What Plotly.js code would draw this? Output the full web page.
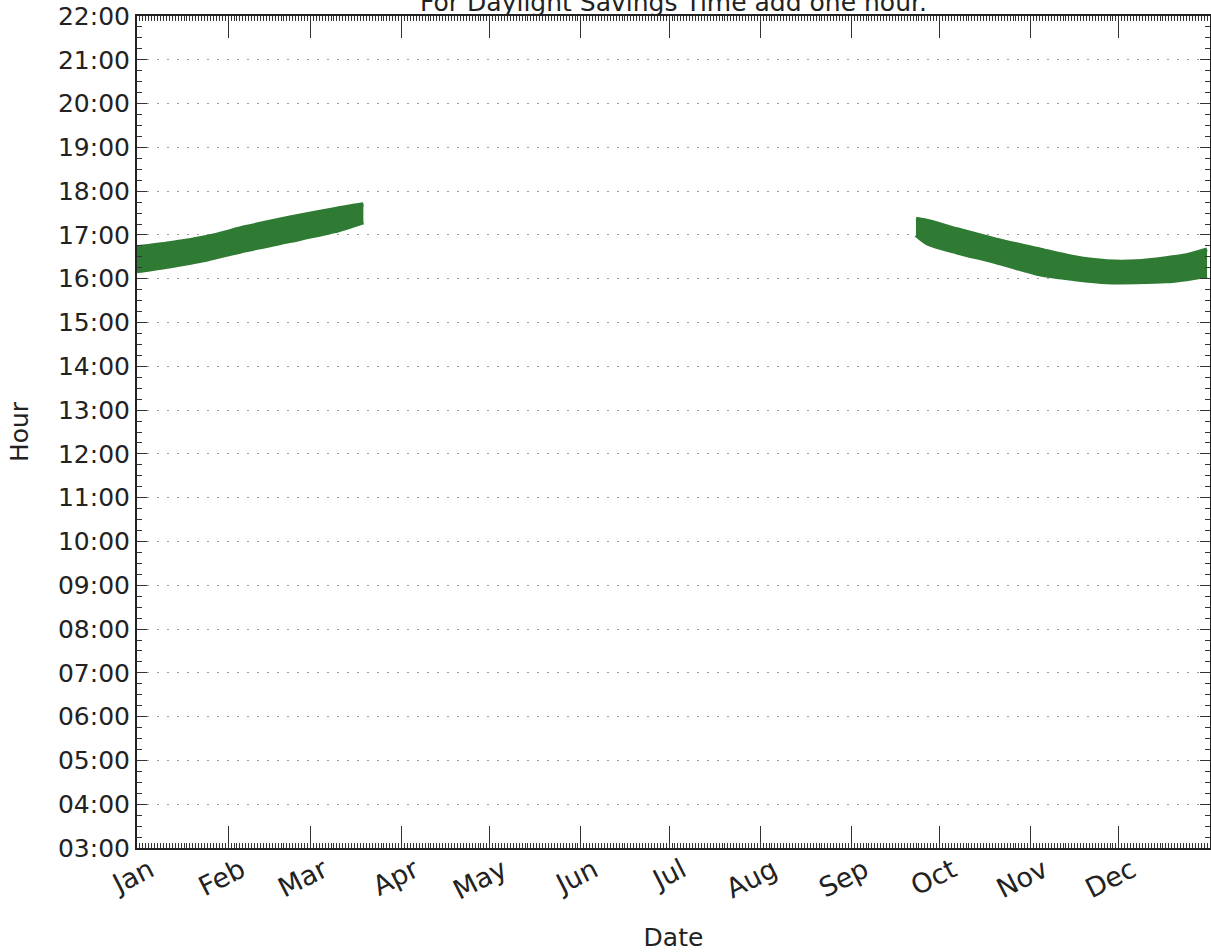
<!DOCTYPE html>
<html>
<head>
<meta charset="utf-8">
<script src="https://cdn.plot.ly/plotly-3.0.1.min.js"></script>
<style>html,body{margin:0;padding:0;background:#fff;}#chart{width:1211px;height:952px;}</style>
</head>
<body>
<div id="chart"></div>
<script>
// Winter segment (Jan - mid Mar): band edges, decimal hours
const seg1Dates = ['2013-01-01','2013-01-12','2013-01-25','2013-02-07','2013-02-22','2013-03-09','2013-03-19'];
const seg1Upper = [16.72, 16.81, 16.96, 17.18, 17.40, 17.59, 17.70];
const seg1Lower = [16.17, 16.28, 16.44, 16.65, 16.86, 17.08, 17.29];

// Autumn segment (late Sep - Dec)
const seg2Dates = ['2013-09-23','2013-09-27','2013-10-07','2013-10-20','2013-11-04','2013-11-16','2013-11-27','2013-12-07','2013-12-17','2013-12-24','2013-12-31'];
const seg2Upper = [17.37, 17.32, 17.13, 16.90, 16.67, 16.49, 16.40, 16.40, 16.47, 16.54, 16.67];
const seg2Lower = [17.00, 16.80, 16.60, 16.38, 16.10, 15.99, 15.92, 15.92, 15.94, 15.99, 16.06];

// Y tick labels
const hourVals = [3,4,5,6,7,8,9,10,11,12,13,14,15,16,17,18,19,20,21,22];
const hourLabels = ['03:00','04:00','05:00','06:00','07:00','08:00','09:00','10:00','11:00','12:00','13:00','14:00','15:00','16:00','17:00','18:00','19:00','20:00','21:00','22:00'];

const green = '#2f7b34';
function band(dates, lower, upper) {
  return [
    {x: dates, y: lower, type: 'scatter', mode: 'lines', line: {color: green, width: 4, shape: 'spline', smoothing: 0.7}, hoverinfo: 'skip', showlegend: false},
    {x: dates, y: upper, type: 'scatter', mode: 'lines', fill: 'tonexty', fillcolor: green, line: {color: green, width: 4, shape: 'spline', smoothing: 0.7}, hoverinfo: 'skip', showlegend: false}
  ];
}
const data = band(seg1Dates, seg1Lower, seg1Upper).concat(band(seg2Dates, seg2Lower, seg2Upper));

const font = {family: 'DejaVu Sans', size: 25, color: '#222'};
const xfont = {family: 'DejaVu Sans', size: 27, color: '#222'};
const layout = {
  width: 1211, height: 952,
  margin: {l: 137, r: 1, t: 16, b: 104},
  paper_bgcolor: '#fff', plot_bgcolor: '#fff',
  font: font,
  showlegend: false,
  title: {text: 'For Daylight Savings Time add one hour.', font: font, x: 0.5, xref: 'paper', xanchor: 'center', y: 0.988, yref: 'container', yanchor: 'bottom'},
  xaxis: {
    type: 'date', range: ['2013-01-01', '2014-01-01'],
    tick0: '2013-01-01', dtick: 'M1', tickformat: '%b', tickangle: -27,
    ticks: 'inside', ticklen: 22, tickwidth: 1, tickcolor: '#333',
    ticklabelshift: 13, ticklabelstandoff: -6,
    minor: {dtick: 86400000, ticks: 'inside', ticklen: 5, tickwidth: 1, tickcolor: '#333', showgrid: false},
    showline: true, linewidth: 2, linecolor: '#222', mirror: 'allticks',
    showgrid: false, zeroline: false,
    tickfont: xfont,
    title: {text: 'Date', font: font, standoff: 28}
  },
  yaxis: {
    range: [3, 22],
    tickvals: hourVals, ticktext: hourLabels,
    ticks: 'inside', ticklen: 10, tickwidth: 1, tickcolor: '#333',
    minor: {dtick: 0.25, ticks: 'inside', ticklen: 5, tickwidth: 1, tickcolor: '#333', showgrid: false},
    showline: true, linewidth: 2, linecolor: '#222', mirror: 'allticks',
    showgrid: true, gridcolor: '#9a9a9a', gridwidth: 1, griddash: '2px,8px',
    zeroline: false,
    tickfont: font,
    title: {text: 'Hour', font: font, standoff: 22}
  }
};
Plotly.newPlot('chart', data, layout, {displayModeBar: false, staticPlot: true});
</script>
</body>
</html>
